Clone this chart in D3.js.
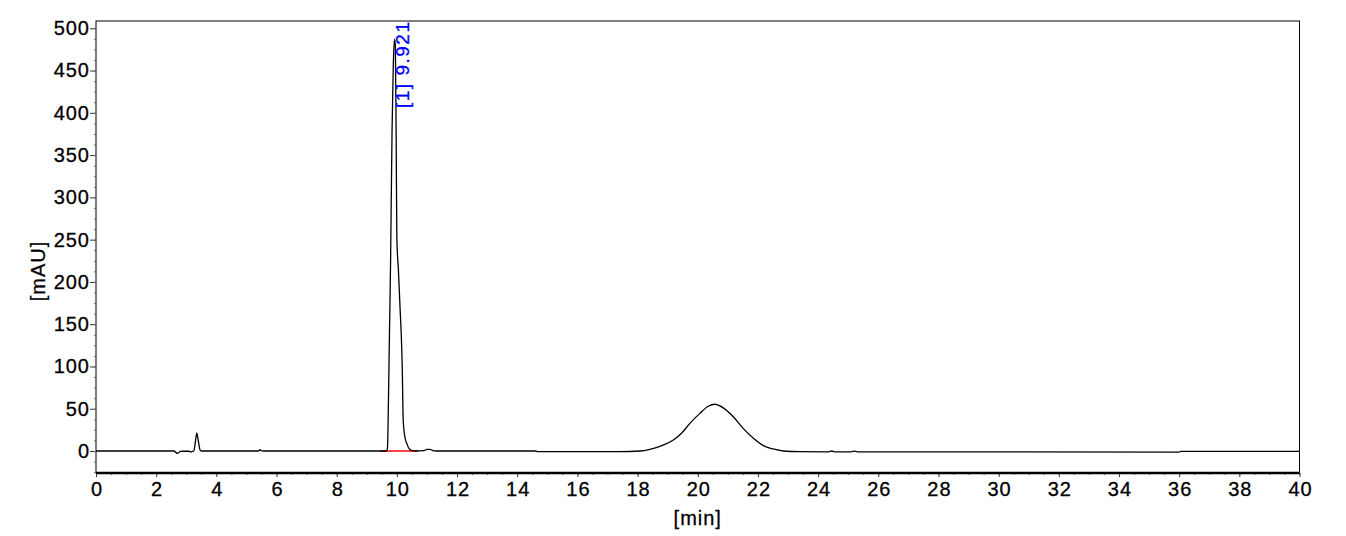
<!DOCTYPE html>
<html>
<head>
<meta charset="utf-8">
<script src="https://cdn.jsdelivr.net/npm/d3@7"></script>
<style>
  body { margin: 0; background: #fff; }
  text { font-family: "Liberation Sans", Arial, sans-serif; }
</style>
</head>
<body>
<div id="chart"></div>
<script>
// retention time [min] and signal [mAU]
let times = [0, 2.6, 2.65, 2.7, 2.75, 2.8, 2.9, 3.1, 3.15, 3.2, 3.25, 3.3, 3.35, 3.38, 3.42, 3.46, 3.5,
    5.4, 5.45, 5.5, 5.55,
    9.66, 9.69, 9.71, 9.75, 9.79, 9.84, 9.88, 9.92, 9.95, 9.98, 10.0, 10.05, 10.1, 10.18, 10.21, 10.27, 10.33, 10.4, 10.5, 10.6,
    10.9, 11.0, 11.1, 11.2, 11.3,
    14.6, 14.7, 17.41, 18.08, 18.41, 18.85, 19.19, 19.46, 19.74, 20.07, 20.35, 20.57, 20.85, 21.18, 21.51, 21.85, 22.18, 22.51, 22.84, 23.4,
    24.35, 24.45, 24.55, 25.1, 25.2, 25.3, 36.0, 36.05, 40];
let signal = [0, 0, -1.5, -2.8, -2, -0.5, -0.3, -0.3, -1, -0.5, 0, 10, 21.5, 16, 8, 1, 0,
    0, 1.5, 0.5, 0,
    0, 5, 37, 130, 222, 380, 455, 487, 480, 350, 250, 215, 174, 96, 37, 16, 9, 3, 0.5, 0,
    0.5, 2, 2, 0.5, 0,
    0, -0.8, -0.8, 0, 2, 7, 13, 21, 32.7, 44.5, 53, 55.3, 51, 40.5, 26.8, 15, 6.3, 2.4, 0, -0.8,
    -0.9, 0, -0.9, -0.9, -0.2, -0.9, -1.2, -0.4, -0.4];

// integration baseline of peak 1
let baseTimes = [9.44, 10.71];
let baseValues = [0, 0];

let peakLabels = ["[1]  9.921"];
let peakTimes = [9.921];

let xTicks = d3.range(0, 41, 2);
let yTicks = d3.range(0, 501, 50);

let W = 1346, H = 536;
let plot = { left: 96, right: 1299.5, top: 21, bottom: 473 };

let svg = d3.select("#chart").append("svg")
    .attr("width", W)
    .attr("height", H);

let x = d3.scaleLinear().domain([0, 40]).range([plot.left, plot.right]);
let y = d3.scaleLinear().domain([-26, 508.6]).range([plot.bottom, plot.top]);

function labelStyle(sel) {
    sel.style("font-size", "20px")
        .style("letter-spacing", "1px")
        .attr("fill", "#000")
        .attr("stroke", "#000")
        .attr("stroke-width", 0.3);
}

// frame
svg.append("rect")
    .attr("x", plot.left).attr("y", plot.top)
    .attr("width", plot.right - plot.left).attr("height", plot.bottom - plot.top)
    .attr("fill", "none").attr("stroke", "#000").attr("stroke-width", 1);

// y axis
let yAxis = d3.axisLeft(y).tickValues(yTicks).tickSize(6).tickPadding(1).tickFormat(d3.format("d"));
let gy = svg.append("g").attr("transform", "translate(" + plot.left + ",0)").call(yAxis);
gy.select(".domain").remove();
gy.selectAll(".tick line").attr("stroke", "#333");
gy.selectAll("text").call(labelStyle).attr("dx", 1);

let yMinor = d3.axisLeft(y).tickValues(d3.range(-25, 501, 12.5)).tickSize(2).tickFormat("");
let gym = svg.append("g").attr("transform", "translate(" + plot.left + ",0)").call(yMinor);
gym.select(".domain").remove();
gym.selectAll("line").attr("stroke", "#666");

// x axis
let xAxis = d3.axisBottom(x).tickValues(xTicks).tickSize(4).tickPadding(5).tickFormat(d3.format("d"));
let gx = svg.append("g").attr("transform", "translate(0," + plot.bottom + ")").call(xAxis);
gx.select(".domain").remove();
gx.selectAll(".tick line").attr("stroke", "#333");
gx.selectAll("text").call(labelStyle).attr("dx", 0.5);

let xMinor = d3.axisBottom(x).tickValues(d3.range(0, 40.01, 0.5)).tickSize(2).tickFormat("");
let gxm = svg.append("g").attr("transform", "translate(0," + plot.bottom + ")").call(xMinor);
gxm.select(".domain").remove();
gxm.selectAll("line").attr("stroke", "#666");

// thick bottom axis line
svg.append("line")
    .attr("x1", plot.left).attr("x2", plot.right)
    .attr("y1", plot.bottom).attr("y2", plot.bottom)
    .attr("stroke", "#000").attr("stroke-width", 2.5);

// axis titles
svg.append("text")
    .attr("transform", "translate(45," + ((plot.top + plot.bottom) / 2 + 24) + ") rotate(-90)")
    .attr("text-anchor", "middle")
    .call(labelStyle)
    .text("[mAU]");

svg.append("text")
    .attr("x", (plot.left + plot.right) / 2)
    .attr("y", 525)
    .attr("text-anchor", "middle")
    .call(labelStyle)
    .text("[min]");

svg.append("defs").append("clipPath").attr("id", "clip")
    .append("rect")
    .attr("x", plot.left).attr("y", plot.top)
    .attr("width", plot.right - plot.left).attr("height", plot.bottom - plot.top);

let g = svg.append("g").attr("clip-path", "url(#clip)");

// integration baseline
g.append("path")
    .datum(d3.zip(baseTimes, baseValues))
    .attr("d", d3.line().x(d => x(d[0])).y(d => y(d[1])))
    .attr("fill", "none").attr("stroke", "#ff0000").attr("stroke-width", 1.5);

// chromatogram
g.append("path")
    .datum(d3.zip(times, signal))
    .attr("d", d3.line().curve(d3.curveMonotoneX).x(d => x(d[0])).y(d => y(d[1])))
    .attr("fill", "none").attr("stroke", "#000").attr("stroke-width", 1.3);

// peak labels
svg.selectAll(".peaklabel")
    .data(d3.zip(peakTimes, peakLabels))
    .enter()
    .append("text")
    .attr("class", "peaklabel")
    .attr("transform", d => "translate(" + (x(d[0]) + 14.5) + ",108) rotate(-90)")
    .attr("fill", "#0000ff")
    .attr("stroke", "#0000ff")
    .attr("stroke-width", 0.3)
    .style("font-size", "19px").style("letter-spacing", "1.5px")
    .text(d => d[1]);
</script>
</body>
</html>
